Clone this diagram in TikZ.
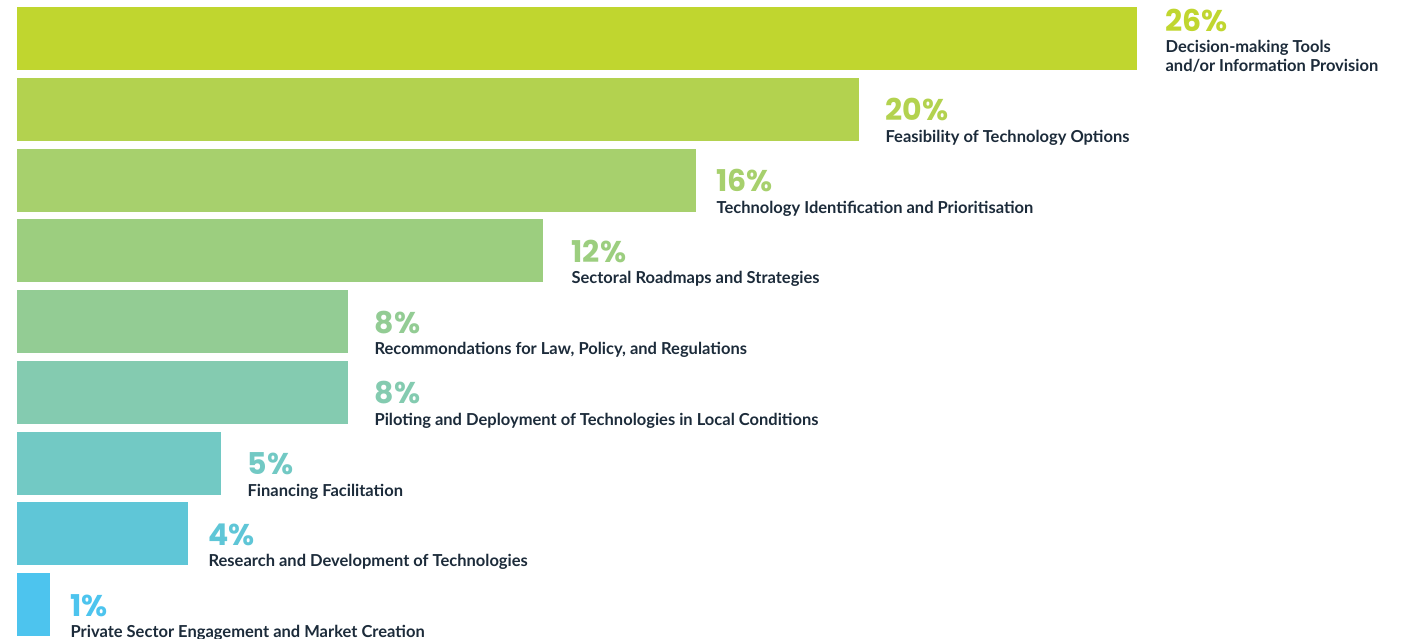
\documentclass[tikz,border=0pt]{standalone}
\usepackage{fontspec}
\setmainfont{Lato}
\newfontfamily\pctfont{Poppins}
\usetikzlibrary{positioning}
\definecolor{barA}{HTML}{C0D62F}
\definecolor{barB}{HTML}{B3D24F}
\definecolor{barC}{HTML}{A7D06D}
\definecolor{barD}{HTML}{9CCE7F}
\definecolor{barE}{HTML}{93CC94}
\definecolor{barF}{HTML}{84CBB0}
\definecolor{barG}{HTML}{72C9C4}
\definecolor{barH}{HTML}{5FC6D7}
\definecolor{barI}{HTML}{4DC4EE}
\definecolor{labelnavy}{HTML}{1C2B3A}
\tikzset{
  bar/.style={fill=#1, draw=none, inner sep=0pt, minimum height=63pt, anchor=north west},
  caption/.style={text=labelnavy, font=\bfseries\fontsize{16.5}{19}\selectfont, inner sep=0pt, text depth=0pt, align=left},
  pct/.style={text=#1, font=\pctfont\bfseries\fontsize{30}{30}\selectfont, inner sep=0pt},
}
\begin{document}
\begin{tikzpicture}[x=1pt,y=-1pt]
    \useasboundingbox (0,0) rectangle (1401,639);
    %% bars with their shares
    \foreach \w/\off/\col/\pct/\txt [count=\i] in {
        1120/28/barA/26/{Decision-making Tools\\and/or Information Provision},
        842/26/barB/20/{Feasibility of Technology Options},
        679/20/barC/16/{Technology Identification and Prioritisation},
        526/28/barD/12/{Sectoral Roadmaps and Strategies},
        331/26/barE/8/{Recommondations for Law, Policy, and Regulations},
        331/26/barF/8/{Piloting and Deployment of Technologies in Local Conditions},
        204/26/barG/5/{Financing Facilitation},
        171/20/barH/4/{Research and Development of Technologies},
        33/20/barI/1/{Private Sector Engagement and Market Creation}}
    {
        \node[bar=\col, minimum width=\w pt] (bar\i) at (17,{7+(\i-1)*70.75}) {};
        \node[caption, right=\off pt of bar\i.south east, anchor=south west, yshift=-1.5pt] (cap\i) {\txt};
        \node[pct=\col, above=9pt of cap\i.north west, anchor=base west] (pct\i) {\pct\%};
    }
\end{tikzpicture}
\end{document}
